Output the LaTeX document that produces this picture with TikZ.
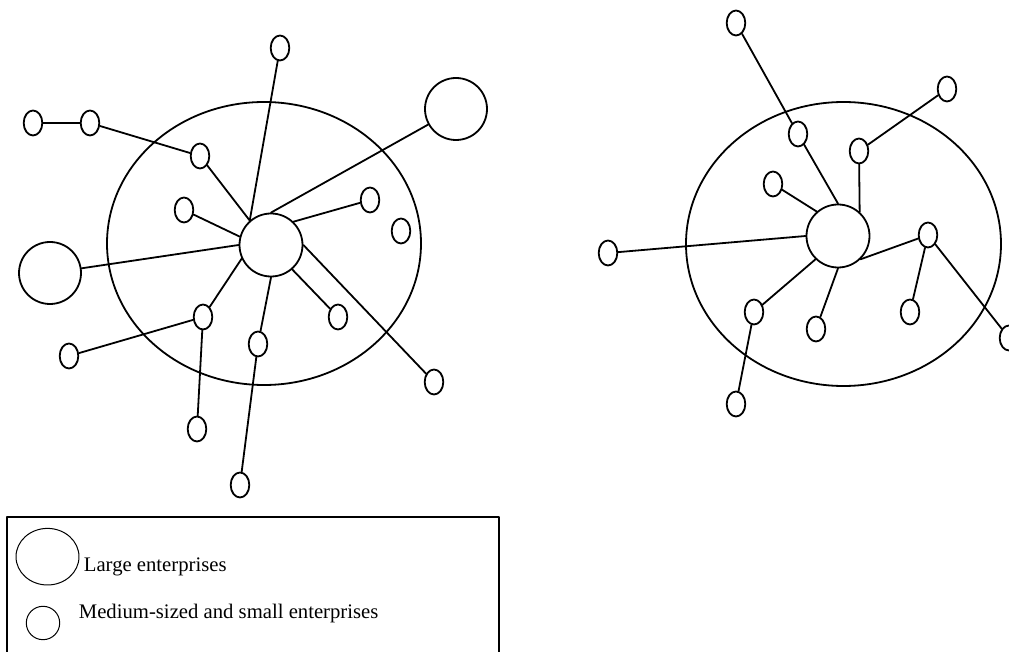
\documentclass[tikz,border=0pt]{standalone}
\usepackage{fontspec}
\setmainfont{Liberation Serif}
\usetikzlibrary{shapes.geometric}
\tikzset{
  small/.style={draw, ellipse, inner sep=0pt, minimum width=9.3pt, minimum height=12.5pt},
  large/.style={draw, circle, inner sep=0pt, minimum size=31pt},
  hub/.style={draw, circle, inner sep=0pt, minimum size=31.5pt},
  lbl/.style={anchor=base west, inner sep=0pt, font=\fontsize{10.35}{12}\selectfont}
}
\begin{document}
\begin{tikzpicture}[x=0.5pt, y=-0.5pt, line width=0.9pt, line join=round, line cap=round]
\useasboundingbox (0,0) rectangle (1009,652);
\clip (0,0) rectangle (1009,652);
% left cluster
\draw (264,243.5) ellipse [x radius=78.5pt, y radius=70.75pt];
\node[hub] (hubL) at (271,245) {};
\node[small] (a1) at (280,48) {};
\node[small] (a2) at (33,123) {};
\node[small] (a3) at (90,123) {};
\node[small] (a4) at (200,156) {};
\node[small] (a5) at (184,210) {};
\node[small] (a6) at (370,200) {};
\node[small] (a7) at (401,231) {};
\node[small] (a8) at (203,317) {};
\node[small] (a9) at (338,317) {};
\node[small] (a10) at (258,344) {};
\node[small] (a11) at (69,356) {};
\node[small] (a12) at (434,382) {};
\node[small] (a13) at (197,429) {};
\node[small] (a14) at (240,485) {};
\node[large] (L1) at (456,109) {};
\node[large] (L2) at (50,273) {};
\draw (hubL.131) -- (a1) (hubL.131) -- (a4) (hubL.165) -- (a5)
  (hubL.180) -- (L2) (hubL.90) -- (L1) (hubL.46) -- (a6)
  (hubL.205) -- (a8) (hubL.311) -- (a9) (hubL.0) -- (a12)
  (hubL.270) -- (a10) -- (a14);
\draw (a11) -- (a8) -- (a13);
\draw (a2) -- (a3) -- (a4);
% right cluster
\draw (843.5,244) ellipse [x radius=78.75pt, y radius=71pt];
\node[hub] (hubR) at (838,236) {};
\node[small] (b1) at (736,23) {};
\node[small] (b2) at (798,134) {};
\node[small] (b3) at (859,151) {};
\node[small] (b4) at (947,89) {};
\node[small] (b5) at (773,184) {};
\node[small] (b6) at (608,253) {};
\node[small] (b7) at (928,235) {};
\node[small] (b8) at (754,312) {};
\node[small] (b9) at (816,329) {};
\node[small] (b10) at (910,312) {};
\node[small] (b11) at (1009,338) {};
\node[small] (b12) at (736,404) {};
\draw (b1) -- (b2) -- (hubR.90);
\draw (b4) -- (b3) -- (hubR.48);
\draw (b5) -- (hubR.131) (b6) -- (hubR.180) (b9) -- (hubR.270);
\draw (hubR.314) -- (b7) -- (b10) (b7) -- (b11);
\draw (hubR.226) -- (b8) -- (b12);
% legend
\draw (7,517) rectangle (499,700);
\node[draw, ellipse, line width=0.5pt, inner sep=0pt, minimum width=31.5pt, minimum height=28.3pt] (lgL) at (47.5,556.7) {};
\node[lbl] (txtL) at (83,572) {Large enterprises};
\node[draw, circle, line width=0.5pt, inner sep=0pt, minimum size=16.7pt] (lgS) at (43,623) {};
\node[lbl] (txtS) at (78,619) {Medium-sized and small enterprises};
\end{tikzpicture}
\end{document}
